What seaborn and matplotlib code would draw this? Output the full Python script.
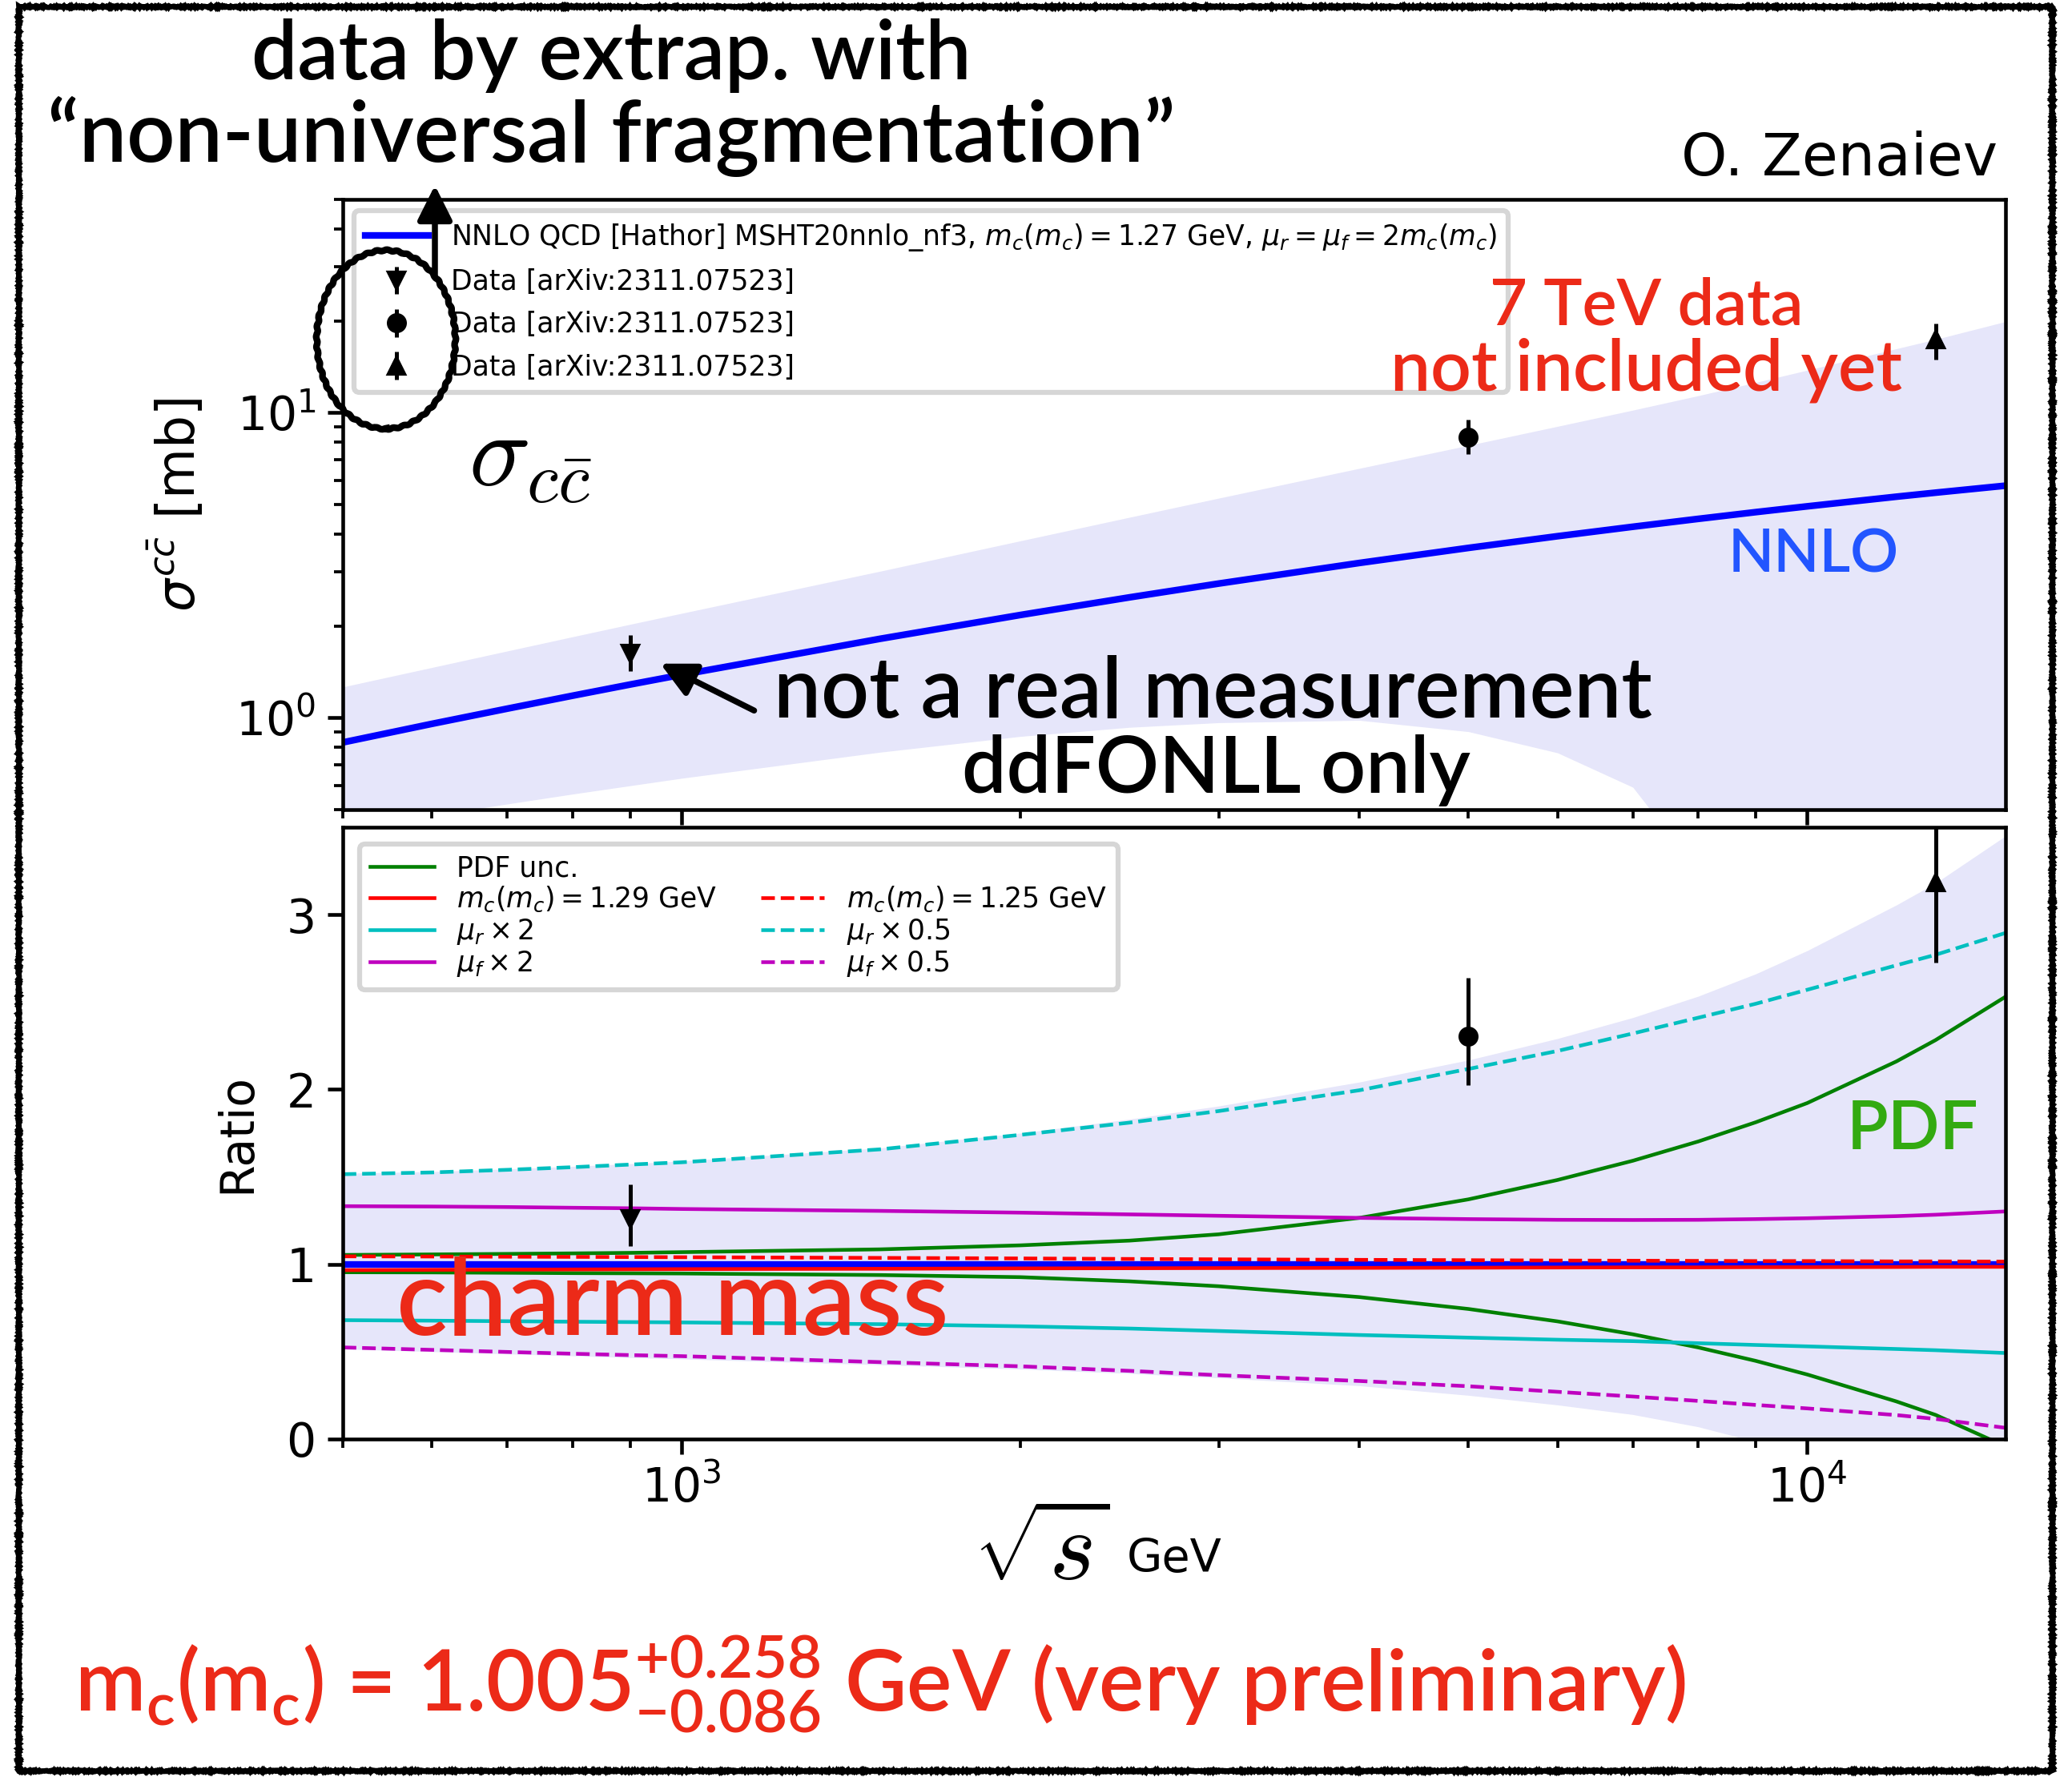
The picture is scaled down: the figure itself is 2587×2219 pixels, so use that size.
import numpy as np
import matplotlib
matplotlib.use("Agg")
import matplotlib.pyplot as plt
from matplotlib.patches import Ellipse, Rectangle, FancyArrowPatch
from matplotlib.lines import Line2D
import seaborn as sns

energy = [500, 600, 700, 800, 900, 1000, 1500, 2000, 2500, 3000, 4000, 5000,
          6000, 7000, 8000, 9000, 10000, 12000, 13000, 15000]

# NNLO cross section [mb]
nnlo = [0.830, 0.955, 1.071, 1.181, 1.285, 1.383, 1.814, 2.172, 2.481, 2.753, 3.216, 3.603,
        3.936, 4.227, 4.486, 4.72, 4.931, 5.303, 5.467, 5.763]

# total uncertainty band (ratio to NNLO)
band_hi = [1.52, 1.53, 1.545, 1.56, 1.575, 1.59, 1.665, 1.75, 1.83, 1.905, 2.042, 2.168,
           2.291, 2.411, 2.533, 2.661, 2.794, 3.055, 3.18, 3.45]
band_lo = [0.515, 0.50, 0.487, 0.476, 0.466, 0.458, 0.425, 0.40, 0.375, 0.35, 0.305, 0.25,
           0.195, 0.14, 0.07, -0.015, -0.11, -0.33, -0.45, -0.72]

# individual variations (ratio to NNLO)
pdf_up = [1.053, 1.056, 1.059, 1.062, 1.065, 1.069, 1.085, 1.108, 1.135, 1.171, 1.265, 1.371,
          1.482, 1.592, 1.702, 1.812, 1.922, 2.16, 2.282, 2.53]
pdf_dn = [0.954, 0.953, 0.951, 0.949, 0.948, 0.947, 0.938, 0.926, 0.902, 0.874, 0.812, 0.744,
          0.673, 0.599, 0.524, 0.447, 0.369, 0.215, 0.138, -0.042]
mc_129 = [0.966, 0.968, 0.969, 0.97, 0.971, 0.972, 0.974, 0.976, 0.977, 0.978, 0.979, 0.98,
          0.981, 0.982, 0.982, 0.983, 0.983, 0.984, 0.985, 0.985]
mc_125 = [1.045, 1.044, 1.043, 1.042, 1.041, 1.04, 1.036, 1.033, 1.03, 1.028, 1.025, 1.023,
          1.021, 1.02, 1.019, 1.018, 1.018, 1.016, 1.016, 1.015]
mur_x2 = [0.68, 0.677, 0.674, 0.671, 0.669, 0.667, 0.657, 0.645, 0.632, 0.618, 0.595, 0.58,
          0.568, 0.56, 0.548, 0.538, 0.53, 0.515, 0.508, 0.492]
mur_x05 = [1.515, 1.525, 1.54, 1.555, 1.57, 1.583, 1.657, 1.74, 1.81, 1.876, 1.995, 2.117,
           2.22, 2.32, 2.41, 2.49, 2.57, 2.71, 2.77, 2.895]
muf_x2 = [1.332, 1.33, 1.327, 1.323, 1.32, 1.316, 1.305, 1.295, 1.285, 1.277, 1.265, 1.258,
          1.254, 1.253, 1.254, 1.258, 1.263, 1.275, 1.283, 1.302]
muf_x05 = [0.524, 0.51, 0.498, 0.488, 0.48, 0.474, 0.44, 0.416, 0.39, 0.365, 0.332, 0.302,
           0.27, 0.243, 0.218, 0.195, 0.175, 0.137, 0.115, 0.064]

# data points [mb]
data_e = [900, 5000, 13000]
data_xs = [1.62, 8.3, 17.4]
data_lo = [0.2, 1.0, 2.5]
data_hi = [0.25, 1.2, 2.2]
data_mk = ['v', 'o', '^']

W, H = 2587, 2219
plt.rcParams['font.size'] = 14
plt.rcParams['axes.linewidth'] = 1.1
for a in ['xtick', 'ytick']:
    plt.rcParams[a + '.major.size'] = 4.5
    plt.rcParams[a + '.minor.size'] = 2.6
    plt.rcParams[a + '.major.width'] = 1.1
    plt.rcParams[a + '.minor.width'] = 0.9

fig = plt.figure(figsize=(W / 300, H / 300), dpi=300)
ax1 = fig.add_axes([0.1654, 0.5444, 0.8025, 0.3434])
ax2 = fig.add_axes([0.1654, 0.1902, 0.8025, 0.3443], sharex=ax1)

e = np.array(energy)
sig = np.array(nnlo)
lo = np.array(band_lo)
hi = np.array(band_hi)
ref = np.array([nnlo[energy.index(x)] for x in data_e])

#### upper panel ####
ax1.set_xscale('log')
ax1.set_yscale('log')
ax1.fill_between(e, np.clip(sig * lo, 1e-3, None), sig * hi, color='lavender', lw=0)
sns.lineplot(x=energy, y=nnlo, color='b', lw=2, ax=ax1)
h_nnlo = ax1.lines[-1]
h_data = []
for x, y, l, u, mk in zip(data_e, data_xs, data_lo, data_hi, data_mk):
    h = ax1.errorbar([x], [y], yerr=[[l], [u]], fmt=mk, color='k', ms=5, elinewidth=1.2)
    h_data.append(h)
ax1.set_xlim(500, 15000)
ax1.set_ylim(0.5, 50)
ax1.tick_params(labelbottom=False)
ax1.set_ylabel(r'$\sigma^{c\bar{c}}$ [mb]', fontsize=15.5, labelpad=9)
leg1 = ax1.legend([h_nnlo] + h_data,
                  [r'NNLO QCD [Hathor] MSHT20nnlo_nf3, $m_c(m_c) = 1.27$ GeV, $\mu_r = \mu_f = 2m_c(m_c)$']
                  + ['Data [arXiv:2311.07523]'] * 3,
                  loc='upper left', fontsize=8.3, labelspacing=0.56, handlelength=2.3,
                  borderaxespad=0.4)
leg1.get_frame().set_linewidth(1.5)

#### lower panel (ratio) ####
ax2.fill_between(e, lo, hi, color='lavender', lw=0)
sns.lineplot(x=energy, y=sig / sig, color='b', lw=2, ax=ax2)
curves = [
    (pdf_up, 'g', '-', 'PDF unc.'),
    (pdf_dn, 'g', '-', None),
    (mc_129, 'r', '-', r'$m_c(m_c) = 1.29$ GeV'),
    (mc_125, 'r', '--', r'$m_c(m_c) = 1.25$ GeV'),
    (mur_x2, 'c', '-', r'$\mu_r \times 2$'),
    (mur_x05, 'c', '--', r'$\mu_r \times 0.5$'),
    (muf_x2, 'm', '-', r'$\mu_f \times 2$'),
    (muf_x05, 'm', '--', r'$\mu_f \times 0.5$'),
]
handles = {}
for vals, col, ls, lab in curves:
    sns.lineplot(x=energy, y=vals, color=col, linestyle=ls, lw=1.1, ax=ax2)
    if lab:
        handles[lab] = ax2.lines[-1]
for x, y, l, u, mk, r in zip(data_e, data_xs, data_lo, data_hi, data_mk, ref):
    ax2.errorbar([x], [y / r], yerr=[[l / r], [u / r]], fmt=mk, color='k', ms=5, elinewidth=1.2)
ax2.set_ylim(0, 3.5)
ax2.set_xlim(500, 15000)
ax2.set_yticks([0, 1, 2, 3])
ax2.set_ylabel('Ratio', labelpad=8)
blank = Line2D([], [], color='none')
labs = ['PDF unc.', r'$m_c(m_c) = 1.29$ GeV', r'$\mu_r \times 2$', r'$\mu_f \times 2$',
        ' ', r'$m_c(m_c) = 1.25$ GeV', r'$\mu_r \times 0.5$', r'$\mu_f \times 0.5$']
hs = [handles[k] if k in handles else blank for k in labs]
leg2 = ax2.legend(hs, labs, ncol=2, loc='upper left', fontsize=8.3, labelspacing=0.1,
                  handlelength=2.3, borderaxespad=0.6, columnspacing=1.6)
leg2.get_frame().set_linewidth(1.5)

#### annotations ####
renderer = fig.canvas.get_renderer()


def note(cx, cy, s, width=None, height=None, **kw):
    t = fig.text(cx / W, 1 - cy / H, s, ha='center', va='center', **kw)
    bb = t.get_window_extent(renderer)
    scale = width / bb.width if width else height / bb.height
    t.set_fontsize(t.get_fontsize() * scale)
    return t


hand = dict(family='Lato', weight='semibold')
red = '#ec2a18'
note(763, 69, 'data by extrap. with', 900, color='k', **hand)
note(763, 170, '\u201cnon-universal fragmentation\u201d', 1410, color='k', **hand)
note(2297, 198, 'O. Zenaiev', 396, color='k')
note(2056, 383, '7 TeV data', 392, color=red, **hand)
note(2056, 462, 'not included yet', 640, color=red, **hand)
note(2264, 693, 'NNLO', 214, color='#2255ff', **hand)
note(662, 572, r'$\sigma_{c\bar{c}}$', height=125, color='k', math_fontfamily='cm')
note(1514, 866, 'not a real measurement', 1098, color='k', **hand)
note(1518, 962, 'ddFONLL only', 636, color='k', **hand)
note(840, 1630, 'charm mass', 690, color=red, **hand)
note(2388, 1411, 'PDF', 165, color='#33aa11', **hand)
note(1300, 1939, r'$\sqrt{s}$', height=122, color='k', math_fontfamily='cm')
note(1466, 1947, 'GeV', 119, color='k')
note(1099, 2104, r'm$_\mathregular{c}$(m$_\mathregular{c}$) = $\mathregular{1.005^{+0.258}_{-0.086}}$ GeV (very preliminary)',
     2016, color=red, **hand)

ell = Ellipse((482 / W, 1 - 424 / H), 173 / W, 223 / H, transform=fig.transFigure,
              fill=False, lw=2, ec='k')
ell.set_sketch_params(0.8, 12, 1)
fig.add_artist(ell)

for p0, p1 in [((543, 353), (543, 223)), ((949, 891), (817, 825))]:
    arr = FancyArrowPatch((p0[0] / W, 1 - p0[1] / H), (p1[0] / W, 1 - p1[1] / H),
                          transform=fig.transFigure, arrowstyle='-|>', mutation_scale=22,
                          lw=1.8, color='k')
    fig.add_artist(arr)

frame = Rectangle((23 / W, 1 - 2211 / H), (2562 - 23) / W, (2211 - 8) / H,
                  transform=fig.transFigure, fill=False, lw=1.6, ec='k')
frame.set_sketch_params(0.8, 2, 2)
fig.add_artist(frame)

fig.savefig('out.png', dpi=300)
